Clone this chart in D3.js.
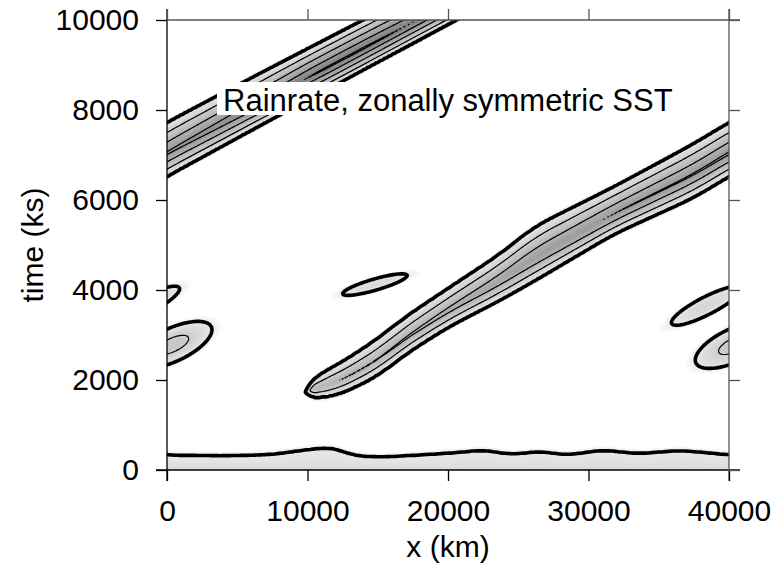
<!DOCTYPE html>
<html>
<head>
<meta charset="utf-8">
<script src="https://cdn.jsdelivr.net/npm/d3@7"></script>
<style>
  body { margin: 0; background: #fff; }
  text { font-family: "Liberation Sans", Arial, Helvetica, sans-serif; }
</style>
</head>
<body>
<div id="chart"></div>
<script>
// ---- data ----
// the eastward moving rain band, x unwrapped past 40000 km (it comes back in at x = 0)
const bandX     = [9900, 10500, 12000, 15190, 16600, 20000, 23740, 26120, 31820, 37530, 40000, 46630, 50000, 54000, 58000, 62000];
const bandUpper = [1900, 2080, 2300, 2950, 3320, 4030, 4800, 5400, 6290, 7250, 7720, 8810, 9355, 10000, 10640, 11290];
const bandLower = [1620, 1600, 1640, 2120, 2500, 3180, 3780, 4200, 5250, 6060, 6530, 7660, 8228, 8900, 9570, 10240];
const bandPeak  = [2.6, 2.9, 3.05, 3.05, 3.1, 3.3, 3.6, 3.85, 4.05, 4.1, 4.15, 4.6, 5.1, 5.15, 5.0, 5.0];

// spin-up rain at the bottom: time of the outer contour along x
const bottomX = [0, 4000, 7500, 9500, 11500, 12300, 13000, 15000, 18000, 20500, 22500, 24500, 26500, 28500, 31000, 33500, 36500, 38500, 40000];
const bottomT = [330, 310, 340, 430, 500, 450, 330, 280, 330, 380, 440, 340, 410, 330, 440, 360, 430, 380, 330];

// isolated patches: centre x (km), centre t (ks), half length (km), tilt (ks/km), half thickness (ks), peak
const blobCx   = [14800, 38400, 40400];
const blobCt   = [4120, 3650, 2780];
const blobLen  = [2300, 2500, 2800];
const blobTilt = [0.088, 0.15, 0.12];
const blobThk  = [130, 220, 400];
const blobPeak = [1.6, 1.7, 2.3];

const levels = [1, 2, 3, 4, 5];
const xTicks = [0, 10000, 20000, 30000, 40000];
const yTicks = [0, 2000, 4000, 6000, 8000, 10000];
const title = "Rainrate, zonally symmetric SST";

// ---- layout ----
const width = 778, height = 575;
const x = d3.scaleLinear().domain([0, 40000]).range([167, 729]);
const y = d3.scaleLinear().domain([0, 10000]).range([470, 20]);

const svg = d3.select("#chart").append("svg")
  .attr("width", width)
  .attr("height", height);

svg.append("rect").attr("width", width).attr("height", height).attr("fill", "#fff");

// ---- field ----
const upperAt = d3.scaleLinear().domain(bandX).range(bandUpper);
const lowerAt = d3.scaleLinear().domain(bandX).range(bandLower);
const peakAt = d3.scaleLinear().domain(bandX).range(bandPeak).clamp(true);
const bottomLin = d3.scaleLinear().domain(bottomX).range(bottomT);
const bottomAt = xk => bottomLin(((xk % 40000) + 40000) % 40000);   // periodic in x

const tipStart = 9300, tipFull = 10600;
const edgeFade = 140;   // ks, how fast the grey fades outside the outer contour
const sp = 0.43;        // where the band peaks, as a fraction up from its lower edge

function smooth(a) {
  a = Math.max(0, Math.min(1, a));
  return a * a * (3 - 2 * a);
}

// round off the corners of the read-off polyline a little
function soft(fn, xu, w) {
  let sum = 0;
  for (let k = -4; k <= 4; k++) sum += fn(xu + k * w);
  return sum / 9;
}

function bandParams(xu) {
  if (xu < tipStart) return null;
  return {
    U: soft(upperAt, xu, 300),
    L: soft(lowerAt, xu, 300),
    p: soft(peakAt, xu, 300),
    taper: smooth((xu - tipStart) / (tipFull - tipStart))
  };
}

function band(b, t) {
  if (!b) return 0;
  let s = (t - b.L) / (b.U - b.L);
  let f;
  if (s >= 0 && s <= 1) {
    let u = s < sp ? (sp - s) / sp : (s - sp) / (1 - sp);
    f = 1 + (b.p - 1) * (1 - u);
  } else {
    let d = s < 0 ? b.L - t : t - b.U;
    f = Math.exp(-(d / edgeFade) * (d / edgeFade));
  }
  return f * b.taper;
}

function blobs(xk, t) {
  let best = 0;
  for (let b = 0; b < blobCx.length; b++) {
    for (let shift of [-40000, 0, 40000]) {
      let dx = xk + shift - blobCx[b];
      let u = dx / blobLen[b];
      let v = (t - blobCt[b] - blobTilt[b] * dx) / blobThk[b];
      let f = Math.pow(blobPeak[b], 1 - (u * u + v * v));
      if (f > best) best = f;
    }
  }
  return best;
}

function bottom(e, t) {
  if (t <= e) return 1 + 0.5 * (1 - t / e);
  let d = t - e;
  return Math.exp(-(d / edgeFade) * (d / edgeFade));
}

// grid, padded past the frame so no contour closes along it
const gx0 = -2000, gx1 = 42000, gdx = 100;
const gt0 = -400, gt1 = 10400, gdt = 25;
const nx = Math.round((gx1 - gx0) / gdx) + 1;
const ny = Math.round((gt1 - gt0) / gdt) + 1;
const values = new Float64Array(nx * ny);
for (let i = 0; i < nx; i++) {
  let xk = gx0 + i * gdx;
  let e = soft(bottomAt, xk, 200);
  let bands = [bandParams(xk), bandParams(xk + 40000), bandParams(xk - 40000)];
  for (let j = 0; j < ny; j++) {
    let t = gt0 + j * gdt;
    let f = bottom(e, t);
    for (let b of bands) f = Math.max(f, band(b, t));
    f = Math.max(f, blobs(xk, t));
    values[j * nx + i] = f;
  }
}

const proj = d3.geoTransform({
  point: function(px, py) {
    this.stream.point(x(gx0 + (px - 0.5) * gdx), y(gt0 + (py - 0.5) * gdt));
  }
});
const path = d3.geoPath(proj);

svg.append("clipPath").attr("id", "plotClip")
  .append("rect")
  .attr("x", x(0)).attr("y", y(10000))
  .attr("width", x(40000) - x(0)).attr("height", y(0) - y(10000));

const plot = svg.append("g").attr("clip-path", "url(#plotClip)");

const shade = d3.scaleLinear()
  .domain([0.6, 1, 5.5])
  .range(["#ffffff", "#e8e8e8", "#747474"])
  .clamp(true);

const step = 0.06;
const shadeLevels = d3.range(0.62, 6.0, step);
const contours = d3.contours().size([nx, ny]);

plot.selectAll(".shade")
  .data(contours.thresholds(shadeLevels)(values))
  .join("path")
  .attr("class", "shade")
  .attr("d", path)
  .attr("fill", d => shade(d.value + step / 2))
  .attr("stroke", d => shade(d.value + step / 2))
  .attr("stroke-width", 0.4);

plot.selectAll(".level")
  .data(contours.thresholds(levels)(values))
  .join("path")
  .attr("class", "level")
  .attr("d", path)
  .attr("fill", "none")
  .attr("stroke", "#000")
  .attr("stroke-linejoin", "round")
  .attr("stroke-width", d => d.value === 1 ? 3.6 : 1.2);

// ---- frame and axes ----
const frame = svg.append("g").attr("stroke-width", 1.3).attr("fill", "none");
frame.append("line").attr("x1", 167).attr("x2", 167).attr("y1", 9).attr("y2", 481).attr("stroke", "#000");
frame.append("line").attr("x1", 156).attr("x2", 740).attr("y1", 470).attr("y2", 470).attr("stroke", "#000");
frame.append("line").attr("x1", 167).attr("x2", 740).attr("y1", 20).attr("y2", 20).attr("stroke", "#555");
frame.append("line").attr("x1", 729).attr("x2", 729).attr("y1", 9).attr("y2", 481).attr("stroke", "#555");

function styleAxis(g) {
  g.select(".domain").remove();
  g.selectAll("line").attr("stroke-width", 1.3);
  g.attr("font-size", 30).attr("font-family", "Liberation Sans, Arial, sans-serif");
  g.selectAll("text").attr("fill", "#000");
}

svg.append("g")
  .attr("transform", "translate(167,0)")
  .call(d3.axisLeft(y).tickValues(yTicks).tickFormat(d3.format("d")).tickSize(11).tickPadding(17))
  .call(styleAxis);

svg.append("g")
  .attr("transform", "translate(0,470)")
  .call(d3.axisBottom(x).tickValues(xTicks).tickFormat(d3.format("d")).tickSize(11).tickPadding(19))
  .call(styleAxis);

svg.append("g")
  .attr("transform", "translate(0,20)")
  .call(d3.axisTop(x).tickValues(xTicks).tickSize(11).tickFormat(""))
  .call(styleAxis)
  .selectAll("line").attr("stroke", "#555");

svg.append("g")
  .attr("transform", "translate(729,0)")
  .call(d3.axisRight(y).tickValues(yTicks).tickSize(11).tickFormat(""))
  .call(styleAxis)
  .selectAll("line").attr("stroke", "#555");

svg.append("text")
  .attr("x", 448).attr("y", 557)
  .attr("text-anchor", "middle")
  .attr("font-size", 30)
  .text("x (km)");

svg.append("text")
  .attr("transform", "translate(43,245) rotate(-90)")
  .attr("text-anchor", "middle")
  .attr("font-size", 30)
  .text("time (ks)");

// title sits on a white box over the contours
const titleBox = svg.append("rect").attr("fill", "#fff");
const titleText = svg.append("text")
  .attr("x", 223).attr("y", 111)
  .attr("font-size", 31)
  .text(title);
const bb = titleText.node().getBBox();
titleBox.attr("x", bb.x - 6).attr("y", bb.y - 1)
  .attr("width", bb.width + 12).attr("height", bb.height - 2);
</script>
</body>
</html>
